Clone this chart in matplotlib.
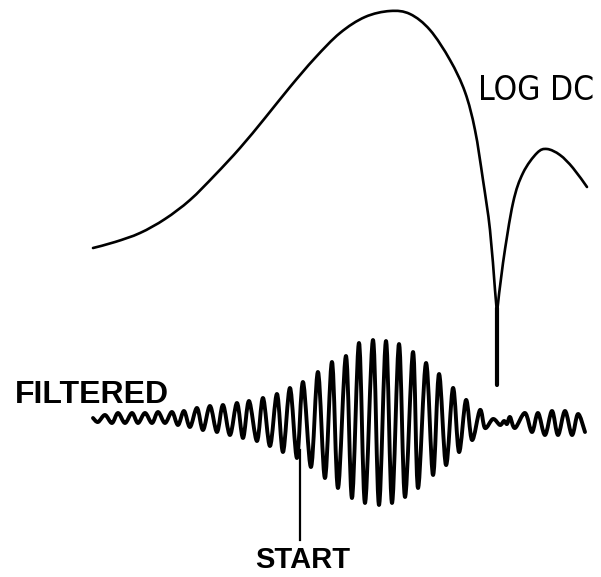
import numpy as np
import matplotlib.pyplot as plt
from matplotlib.path import Path
from matplotlib.patches import PathPatch

# LOG DC trace (x, y, y grows downward)
logdc_left_x = [93, 115, 140, 165, 190, 215, 240, 265, 290, 315, 340, 365, 390, 410,
                430, 450, 465, 475, 483, 490, 495, 497]
logdc_left_y = [248, 242, 233, 219, 200, 175, 148, 118, 87, 58, 33, 17, 11, 14,
                30, 60, 92, 130, 180, 230, 290, 313]
logdc_right_x = [497, 503, 513, 523, 537, 547, 560, 573, 587]
logdc_right_y = [313, 263, 203, 173, 153, 149, 155, 168, 187]
spike_x = [496.5, 496.5]
spike_y = [308, 385]

# FILTERED trace: successive troughs and peaks
wave_x = [93, 98, 105, 112, 118, 125, 132, 138, 145, 152, 158, 165, 172, 178, 184,
          190, 197, 203, 210, 217, 223, 230, 237, 243, 249, 257, 263, 270, 277, 283,
          290, 297, 303, 311, 318, 325, 332, 338, 346, 352, 359, 365, 373, 379, 386,
          392, 399, 405, 413, 418, 426, 433, 439, 446, 453, 459, 466, 472, 480, 485,
          493, 500, 504, 507, 510, 515, 525, 532, 538, 545, 552, 558, 565, 572, 578,
          585]
wave_y = [418, 422, 415, 423, 413, 423, 413, 423, 413, 423, 412, 423, 412, 425, 411,
          427, 408, 430, 406, 432, 405, 435, 403, 438, 401, 441, 398, 446, 394, 452,
          388, 458, 382, 467, 372, 478, 362, 488, 356, 498, 343, 503, 340, 505, 341,
          503, 344, 497, 352, 488, 363, 475, 374, 465, 388, 452, 400, 440, 410, 428,
          419, 425, 421, 424, 417, 428, 413, 432, 413, 435, 411, 435, 411, 435, 414,
          432]

start_x = [300, 300]
start_y = [450, 540]


def smooth_path(xs, ys):
    # Catmull-Rom through the read points, drawn as cubic Bezier pieces
    pts = np.column_stack([xs, ys]).astype(float)
    n = len(pts)
    verts = [pts[0]]
    codes = [Path.MOVETO]
    for i in range(n - 1):
        p0 = pts[max(i - 1, 0)]
        p1 = pts[i]
        p2 = pts[i + 1]
        p3 = pts[min(i + 2, n - 1)]
        verts += [p1 + (p2 - p0) / 6, p2 - (p3 - p1) / 6, p2]
        codes += [Path.CURVE4] * 3
    return Path(verts, codes)


fig = plt.figure(figsize=(6.01, 5.77), dpi=100)
ax = fig.add_axes([0, 0, 1, 1])
ax.set_xlim(0, 601)
ax.set_ylim(577, 0)
ax.axis("off")

for xs, ys in [(logdc_left_x, logdc_left_y), (logdc_right_x, logdc_right_y)]:
    ax.add_patch(PathPatch(smooth_path(xs, ys), fill=False, lw=1.9,
                           edgecolor="black", capstyle="round"))
ax.plot(spike_x, spike_y, color="black", lw=3, solid_capstyle="round")

ax.add_patch(PathPatch(smooth_path(wave_x, wave_y), fill=False, lw=2.8,
                       edgecolor="black", capstyle="round", joinstyle="round"))
ax.plot(start_x, start_y, color="black", lw=1.6)

ax.text(478, 100, "LOG DC", fontsize=24, fontstretch="condensed",
        family=["DejaVu Sans"], va="baseline")
ax.text(15, 403, "FILTERED", fontsize=23, fontweight="bold",
        family=["Liberation Sans", "DejaVu Sans"], va="baseline")
ax.text(303, 568, "START", fontsize=21, fontweight="bold",
        family=["Liberation Sans", "DejaVu Sans"], va="baseline", ha="center")

fig.savefig("out.png", dpi=100)
